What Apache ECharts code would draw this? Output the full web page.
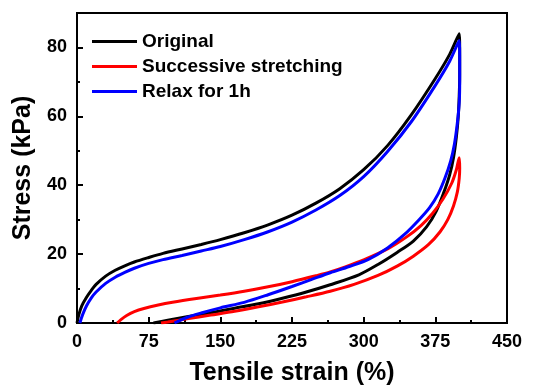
<!DOCTYPE html>
<html>
<head>
<meta charset="utf-8">
<script src="https://cdn.jsdelivr.net/npm/echarts@6/dist/echarts.min.js"></script>
<style>
  html, body { margin: 0; padding: 0; background: #fff; }
</style>
</head>
<body>
<div id="main" style="width: 540px; height: 385px"></div>
<script>
// 拉伸循环数据 (应变 %, 应力 kPa)，先加载后卸载
var seriesNames = ["Original", "Successive stretching", "Relax for 1h"];

var originalData = [
  [0, 0], [2, 2.5], [5, 5], [10, 7.5], [15, 9.5], [20, 11.2], [30, 13.6], [40, 15.3],
  [50, 16.6], [60, 17.7], [75, 19], [90, 20.2], [110, 21.5], [130, 22.8], [150, 24.2],
  [175, 26.2], [200, 28.5], [225, 31.3], [250, 34.8], [275, 39], [300, 44.5],
  [325, 51.5], [350, 60.5], [375, 71], [390, 78], [400, 84],
  [400.5, 78], [400.5, 72], [400, 66], [399, 60], [397, 54], [394, 48], [390, 43],
  [384, 38], [376, 32.5], [366, 28], [352, 23.8], [335, 20.5], [315, 17], [295, 14],
  [265, 11.1], [240, 9], [215, 7.2], [190, 5.6], [165, 4.3], [140, 3], [115, 1.8],
  [95, 0.8], [80, 0]
];

var successiveData = [
  [42, 0], [46, 1], [52, 2.2], [60, 3.3], [70, 4.2], [85, 5.2], [100, 6], [125, 7.1],
  [150, 8.1], [175, 9.2], [200, 10.5], [225, 12], [250, 13.7], [265, 14.8], [280, 16.2],
  [300, 18.3], [325, 21.5], [345, 25], [360, 28.3], [372, 31.8], [383, 36], [392, 40.5],
  [397, 44.5], [400, 48],
  [400.5, 45], [400, 42], [398, 38], [394, 34], [388, 30], [380, 26.5], [368, 22.8],
  [352, 19.4], [335, 16.5], [315, 13.8], [290, 11.2], [265, 9.2], [240, 7.6], [215, 6.1],
  [190, 4.7], [165, 3.4], [140, 2.3], [115, 1.2], [95, 0.3], [88, 0]
];

var relaxData = [
  [3, 0], [6, 2.5], [10, 5], [15, 7.3], [20, 9], [30, 11.5], [40, 13.3], [50, 14.7],
  [60, 15.9], [75, 17.3], [90, 18.4], [110, 19.6], [130, 20.9], [150, 22.2], [175, 24.2],
  [200, 26.5], [225, 29.3], [250, 32.8], [275, 37], [300, 42.5], [325, 49.8],
  [350, 58.5], [375, 69], [390, 76], [400, 82],
  [400.5, 76], [400.5, 70], [400, 64], [398, 58], [395, 52], [391, 47], [385, 42],
  [378, 37.5], [369, 33.5], [358, 30], [343, 25.8], [325, 21.8], [305, 18.5],
  [285, 16.4], [265, 14.6], [245, 12.6], [225, 10.6], [200, 8.2], [175, 6],
  [150, 4.4], [130, 2.9], [115, 1.6], [102, 0]
];

var xTicks = { min: 0, max: 450, interval: 75 };
var yTicks = { min: 0, max: 90, interval: 20 };

var myChart = echarts.init(document.getElementById("main"));
var font = "'Liberation Sans', Arial, sans-serif";

function lineSeries(name, data, color) {
  return {
    name: name,
    type: "line",
    data: data,
    symbol: "none",
    smooth: 0.3,
    lineStyle: { color: color, width: 3 },
    itemStyle: { color: color },
  };
}

var option = {
  animation: false,
  grid: {
    left: 77,
    right: 33,
    top: 13,
    bottom: 62,
    outerBoundsMode: "none",
    show: true,
    borderColor: "#000",
    borderWidth: 2,
  },
  legend: {
    orient: "vertical",
    left: 87,
    top: 24,
    icon: "rect",
    itemWidth: 45,
    itemHeight: 3,
    itemGap: 0,
    textStyle: {
      color: "#000",
      fontFamily: font,
      fontWeight: "bold",
      fontSize: 19,
      lineHeight: 25,
    },
    data: seriesNames,
  },
  xAxis: {
    type: "value",
    min: xTicks.min,
    max: xTicks.max,
    interval: xTicks.interval,
    name: "Tensile strain (%)",
    nameLocation: "middle",
    nameGap: 38,
    nameTextStyle: { color: "#000", fontFamily: font, fontWeight: "bold", fontSize: 25 },
    axisLine: { show: true, lineStyle: { color: "#000", width: 2 } },
    axisTick: { show: true, inside: true, length: 6, lineStyle: { width: 2 } },
    minorTick: { show: true, splitNumber: 2, length: 3, lineStyle: { color: "#000", width: 2 } },
    axisLabel: { color: "#000", fontFamily: font, fontWeight: "bold", fontSize: 18, margin: 10 },
    splitLine: { show: false },
  },
  yAxis: {
    type: "value",
    min: yTicks.min,
    max: yTicks.max,
    interval: yTicks.interval,
    name: "Stress (kPa)",
    nameLocation: "middle",
    nameGap: 41,
    nameTextStyle: { color: "#000", fontFamily: font, fontWeight: "bold", fontSize: 25 },
    axisLine: { show: true, lineStyle: { color: "#000", width: 2 } },
    axisTick: { show: true, inside: true, length: 6, lineStyle: { width: 2 } },
    minorTick: { show: true, splitNumber: 2, length: 3, lineStyle: { color: "#000", width: 2 } },
    axisLabel: { color: "#000", fontFamily: font, fontWeight: "bold", fontSize: 18, margin: 10, showMaxLabel: false },
    splitLine: { show: false },
  },
  series: [
    lineSeries(seriesNames[0], originalData, "#000000"),
    lineSeries(seriesNames[1], successiveData, "#ff0000"),
    lineSeries(seriesNames[2], relaxData, "#0000ff"),
  ],
};
myChart.setOption(option);
</script>
</body>
</html>
